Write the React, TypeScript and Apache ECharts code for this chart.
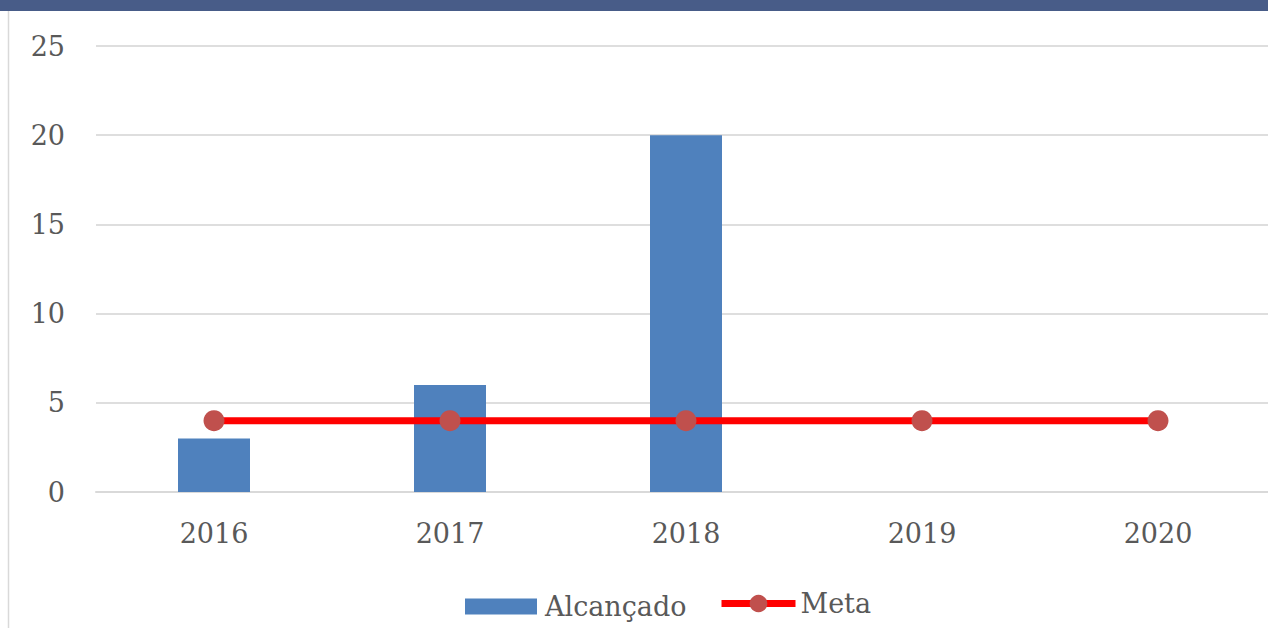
import React, { useEffect, useRef } from "react";
import * as echarts from "echarts";

const categories = ["2016", "2017", "2018", "2019", "2020"];
const alcancado = [3, 6, 20, null, null];
const meta = [4, 4, 4, 4, 4];
const yMin = 0;
const yMax = 25;
const yInterval = 5;

const FONT = "DejaVu Serif";
const TEXT = "#595959";

export default function App() {
  const ref = useRef<HTMLDivElement>(null);
  useEffect(() => {
    if (!ref.current) return;
    const chart = echarts.init(ref.current, undefined, { renderer: "svg" });
    const legendText = { fontFamily: FONT, fontSize: 27, color: TEXT };
    chart.setOption({
      animation: false,
      backgroundColor: "#ffffff",
      graphic: [
        { type: "rect", left: 0, top: 0, shape: { width: 1276, height: 11 }, style: { fill: "#485c88" }, z: 10 },
        { type: "line", shape: { x1: 8.5, y1: 11, x2: 8.5, y2: 628 }, style: { stroke: "#d9d9d9", lineWidth: 1.5 }, z: 10 },
      ],
      grid: { left: 96, right: 0, top: 46, bottom: 136, containLabel: false },
      legend: [
        {
          left: 465,
          top: 593,
          padding: 0,
          itemWidth: 72,
          itemHeight: 16,
          textStyle: { ...legendText, padding: [0, 0, 0, 3] },
          data: [{ name: "Alcançado", icon: "rect" }],
        },
        {
          left: 718,
          top: 590,
          padding: 0,
          itemWidth: 74,
          itemHeight: 22,
          textStyle: legendText,
          data: [
            {
              name: "Meta",
              lineStyle: { color: "#ff0000", width: 7 },
              itemStyle: { color: "#c0504d" },
            },
          ],
        },
      ],
      xAxis: {
        type: "category",
        data: categories,
        axisLine: { lineStyle: { color: "#d9d9d9", width: 2 } },
        axisTick: { show: false },
        axisLabel: { fontFamily: FONT, fontSize: 27, color: TEXT, margin: 28 },
      },
      yAxis: {
        type: "value",
        min: yMin,
        max: yMax,
        interval: yInterval,
        axisLine: { show: false },
        axisTick: { show: false },
        splitLine: { lineStyle: { color: "#dedede", width: 2 } },
        axisLabel: { fontFamily: FONT, fontSize: 27, color: TEXT, margin: 31 },
      },
      series: [
        {
          name: "Alcançado",
          type: "bar",
          data: alcancado,
          barWidth: 72,
          itemStyle: { color: "#4f81bd" },
        },
        {
          name: "Meta",
          type: "line",
          data: meta,
          symbol: "circle",
          symbolSize: 21,
          lineStyle: { color: "#ff0000", width: 7 },
          itemStyle: { color: "#c0504d" },
        },
      ],
    });
    return () => chart.dispose();
  }, []);
  return (
    <div style={{ position: "absolute", left: 0, top: 0, width: 1268, height: 628, overflow: "hidden" }}>
      <div ref={ref} style={{ width: 1276, height: 628 }} />
    </div>
  );
}
